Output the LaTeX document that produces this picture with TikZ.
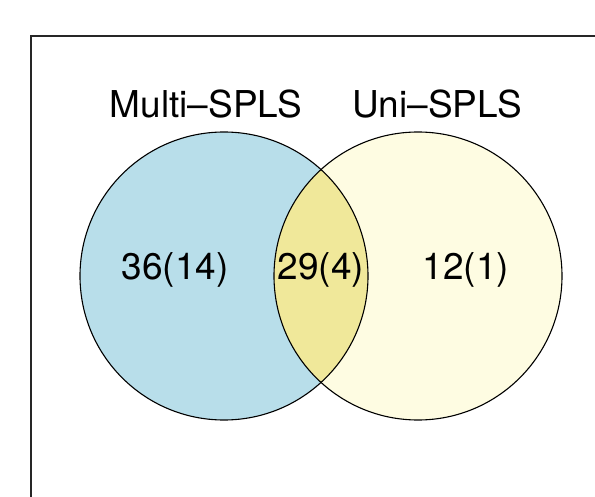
\documentclass[tikz,border=0pt]{standalone}
\usepackage{fontspec}
\setmainfont{TeX Gyre Heros}
\definecolor{leftfill}{HTML}{B8DEEA}
\definecolor{rightfill}{HTML}{FEFCE2}
\definecolor{midfill}{HTML}{F0E89A}
\begin{document}
\begin{tikzpicture}[x=1pt,y=-1pt,
  setcircle/.style={circle, minimum size=288pt, inner sep=0pt, line width=1.1pt},
  lbl/.style={font=\fontsize{37}{44}\selectfont, inner sep=0pt}]
\useasboundingbox (0,0) rectangle (595,497);
% frame
\draw[line width=1.2pt, black!85] (31,510) -- (31,36) -- (610,36);
% circles
\node[setcircle, fill=leftfill] (A) at (224,276) {};
\node[setcircle, fill=rightfill] (B) at (418,276) {};
\begin{scope}
  \clip (224,276) circle (144pt);
  \fill[midfill] (418,276) circle (144pt);
\end{scope}
\node[setcircle, draw] at (A) {};
\node[setcircle, draw] at (B) {};
% labels
\node[lbl] (la) at (206,104) {Multi–SPLS};
\node[lbl] (lb) at (437,104) {Uni–SPLS};
\node[lbl] (n1) at (175,270) {36(14)};
\node[lbl] (n2) at (321,270) {29(4)};
\node[lbl] (n3) at (466,270) {12(1)};
\end{tikzpicture}
\end{document}
